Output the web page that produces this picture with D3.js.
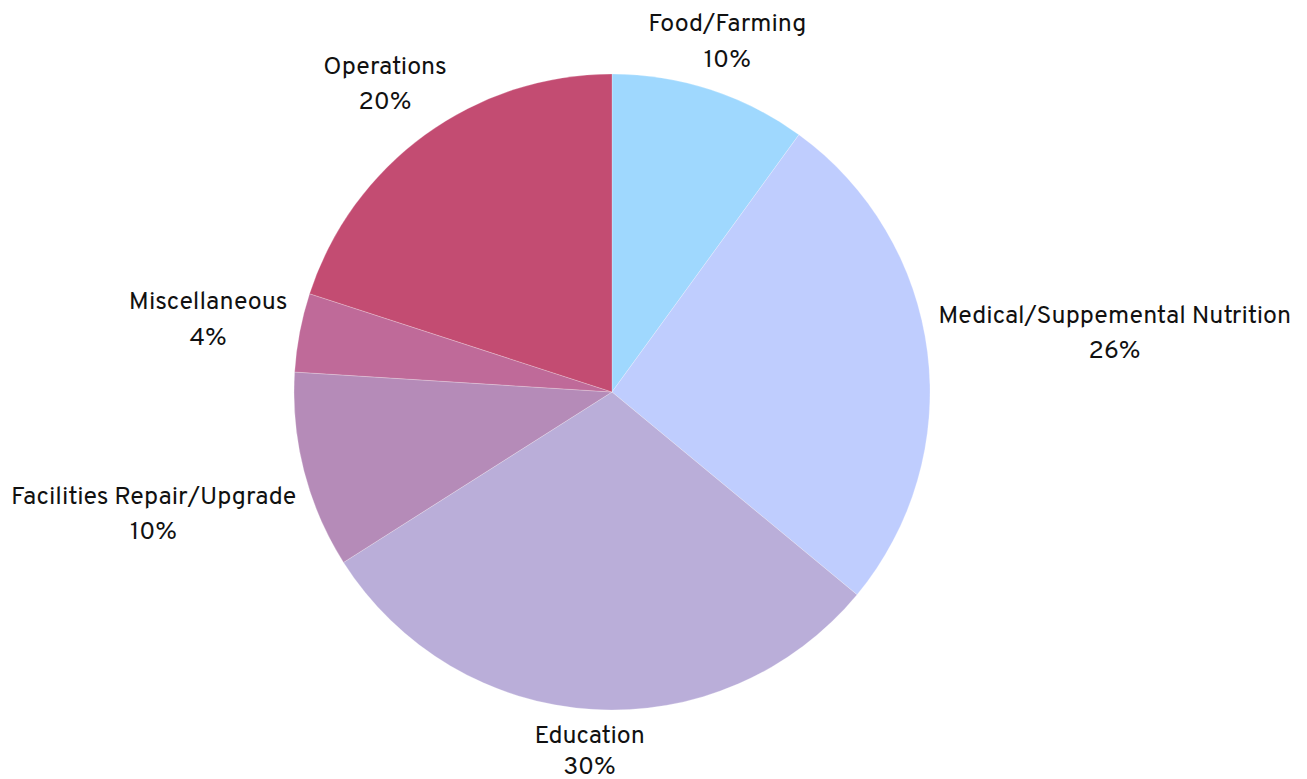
<!DOCTYPE html>
<html><head><meta charset="utf-8">
<script src="https://cdn.jsdelivr.net/npm/d3@7"></script>
<style>html,body{margin:0;padding:0;background:#fff;}</style>
</head><body>
<svg id="chart" width="1307" height="779"></svg>
<script>
const categories = ["Food/Farming","Medical/Suppemental Nutrition","Education","Facilities Repair/Upgrade","Miscellaneous","Operations"];
const values = [10,26,30,10,4,20];
const colors = ["#9fd8fe","#bfcdfe","#baaed9","#b58bb8","#bf6a99","#c34c72"];

const W = 1307, H = 779, cx = 612, cy = 392, r = 318;
const svg = d3.select("#chart");
const g = svg.append("g").attr("transform", `translate(${cx},${cy})`);
const data = categories.map((c,i)=>({label:c, value:values[i], color:colors[i]}));
const pie = d3.pie().value(d=>d.value).sort(null);
const arc = d3.arc().innerRadius(0).outerRadius(r);
const arcs = pie(data);
g.selectAll("path.slice").data(arcs).join("path")
  .attr("class","slice").attr("d",arc).attr("fill",d=>d.data.color)
  .attr("stroke","#ffffff").attr("stroke-opacity",0.4).attr("stroke-width",0.6);

const fontFamily = "Overpass, 'Open Sans', 'Noto Sans', sans-serif";
const fs = 25, lh = 35.5;
const gap = 10;
function boxDist(x, y, w, h){
  const dx = Math.max(Math.abs(x) - w/2, 0);
  const dy = Math.max(Math.abs(y) - h/2, 0);
  return Math.hypot(dx, dy);
}
arcs.forEach(d=>{
  const a = (d.startAngle + d.endAngle)/2;
  const s = Math.sin(a), c = Math.cos(a);
  const t = g.append("text").attr("font-family",fontFamily).attr("font-size",fs).attr("fill","#111")
    .attr("text-anchor","middle");
  const pct = Math.round(d.data.value/d3.sum(values)*100)+"%";
  const t1 = t.append("tspan").attr("x",0).attr("y",0).text(d.data.label);
  const t2 = t.append("tspan").attr("x",0).attr("y",lh).text(pct);
  const w = t.node().getBBox().width;
  const h = lh + fs*0.9;
  let lo = r, hi = r + 1000;
  for (let k=0;k<60;k++){
    const mid = (lo+hi)/2;
    if (boxDist(mid*s, -mid*c, w, h) < r + gap) lo = mid; else hi = mid;
  }
  const R = (lo+hi)/2;
  const bx = R*s, by = -R*c;
  const baseline1 = by - lh/2 + fs*0.36 + 3;
  const maxBase = H - cy - 5;
  const baseline2 = Math.min(baseline1 + lh, maxBase);
  t.attr("transform", `translate(${bx},0)`);
  t1.attr("y", baseline1);
  t2.attr("y", baseline2);
});
</script>
</body></html>
